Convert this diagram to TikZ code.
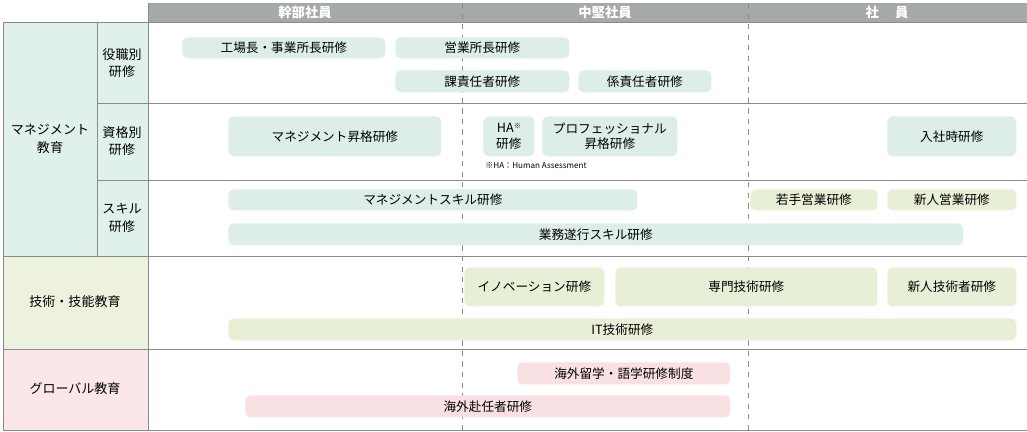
\documentclass[tikz,border=0pt]{standalone}
\usepackage{fontspec}
\setmainfont{Noto Sans CJK JP}
\usetikzlibrary{positioning}
\definecolor{hdgray}{HTML}{A5AAA9}
\definecolor{mgmt}{HTML}{E0F0EB}
\definecolor{tech}{HTML}{EDF2DF}
\definecolor{glob}{HTML}{FBE6E8}
\definecolor{mgmtbox}{HTML}{DDEEE8}
\definecolor{techbox}{HTML}{E8EFD7}
\definecolor{globbox}{HTML}{F9E1E3}
\definecolor{rule}{HTML}{8A8A8A}
\tikzset{
    course/.style={
    rounded corners=3pt,
    inner sep=0pt,
    align=center,
    font=\fontsize{7.2}{8.6}\selectfont
    },
    cat/.style={
    align=center,
    font=\fontsize{7.4}{10}\selectfont
    }
}
% x,y in pixels of the reference
\newcommand{\course}[6]{%
\node [course,fill=#6,minimum width={(#3-#1)*0.02cm},minimum height={(#4-#2)*0.02cm},anchor=north west] (#5) at (#1,#2) {};}

\begin{document}
\begin{tikzpicture}[x=0.02cm,y=-0.02cm]
\useasboundingbox (0,0) rectangle (1027,432);

\fill[hdgray] (148,3) rectangle (1027,22);
\fill[mgmt] (3,22) rectangle (148,256);
\fill[tech] (3,256) rectangle (148,349);
\fill[glob] (3,349) rectangle (148,430);

\node[text=white,font=\fontsize{7.6}{9}\selectfont\bfseries](h1) at (305,12) {幹部社員};
\node[text=white,font=\fontsize{7.6}{9}\selectfont\bfseries](h2) at (605,12) {中堅社員};
\node[text=white,font=\fontsize{7.6}{9}\selectfont\bfseries](h3) at (887,12) {社\hspace{1.2em}員};

\draw[rule,dashed] (462,3) -- (462,430);
\draw[rule,dashed] (748,3) -- (748,430);

\draw[rule] (3,22) -- (1027,22);
\draw[rule] (97,103) -- (1027,103);
\draw[rule] (97,180) -- (1027,180);
\draw[rule] (3,256) -- (1027,256);
\draw[rule] (3,349) -- (1027,349);
\draw[rule] (3,430) -- (1027,430);
\draw[rule] (3,22) -- (3,430);
\draw[rule] (97,22) -- (97,256);
\draw[rule] (148,3) -- (148,430);

\node[cat](m0) at (50,139) {マネジメント\\教育};
\node[cat](m1) at (122,63) {役職別\\研修};
\node[cat](m2) at (122,141) {資格別\\研修};
\node[cat](m3) at (122,218) {スキル\\研修};
\node[cat](t0) at (75,302) {技術・技能教育};
\node[cat](g0) at (75,389) {グローバル教育};

\course{182}{37}{385}{58}{c1}{mgmtbox}
\node at (c1) [course] {工場長・事業所長研修};
\course{395}{37}{569}{58}{c2}{mgmtbox}
\node at (c2) [course] {営業所長研修};
\course{395}{70}{569}{92}{c3}{mgmtbox}
\node at (c3) [course] {課責任者研修};
\course{578}{70}{711}{92}{c4}{mgmtbox}
\node at (c4) [course] {係責任者研修};
\course{228}{116}{441}{156}{c5}{mgmtbox}
\node at (c5) [course] {マネジメント昇格研修};
\course{483}{116}{534}{156}{c6}{mgmtbox}
\node at (c6) [course] {HA\raisebox{0.6ex}{\fontsize{4}{4}\selectfont ※}\\研修};
\course{542}{116}{677}{156}{c7}{mgmtbox}
\node at (c7) [course] {プロフェッショナル\\昇格研修};
\node[anchor=west,inner sep=0pt,font=\fontsize{4.6}{5}\selectfont](note) at (485,166) {※HA：Human Assessment};
\course{887}{116}{1016}{156}{c8}{mgmtbox}
\node at (c8) [course] {入社時研修};
\course{228}{189}{637}{210}{c9}{mgmtbox}
\node at (c9) [course] {マネジメントスキル研修};
\course{750}{189}{877}{210}{c10}{techbox}
\node at (c10) [course] {若手営業研修};
\course{887}{189}{1016}{210}{c11}{techbox}
\node at (c11) [course] {新人営業研修};
\course{228}{223}{963}{245}{c12}{mgmtbox}
\node at (c12) [course] {業務遂行スキル研修};

\course{464}{267}{604}{306}{t1}{techbox}
\node at (t1) [course] {イノベーション研修};
\course{615}{267}{877}{306}{t2}{techbox}
\node at (t2) [course] {専門技術研修};
\course{887}{267}{1016}{306}{t3}{techbox}
\node at (t3) [course] {新人技術者研修};
\course{228}{318}{1016}{340}{t4}{techbox}
\node at (t4) [course] {IT技術研修};

\course{517}{362}{730}{384}{g1}{globbox}
\node at (g1) [course] {海外留学・語学研修制度};
\course{245}{395}{730}{417}{g2}{globbox}
\node at (g2) [course] {海外赴任者研修};

\end{tikzpicture}
\end{document}
